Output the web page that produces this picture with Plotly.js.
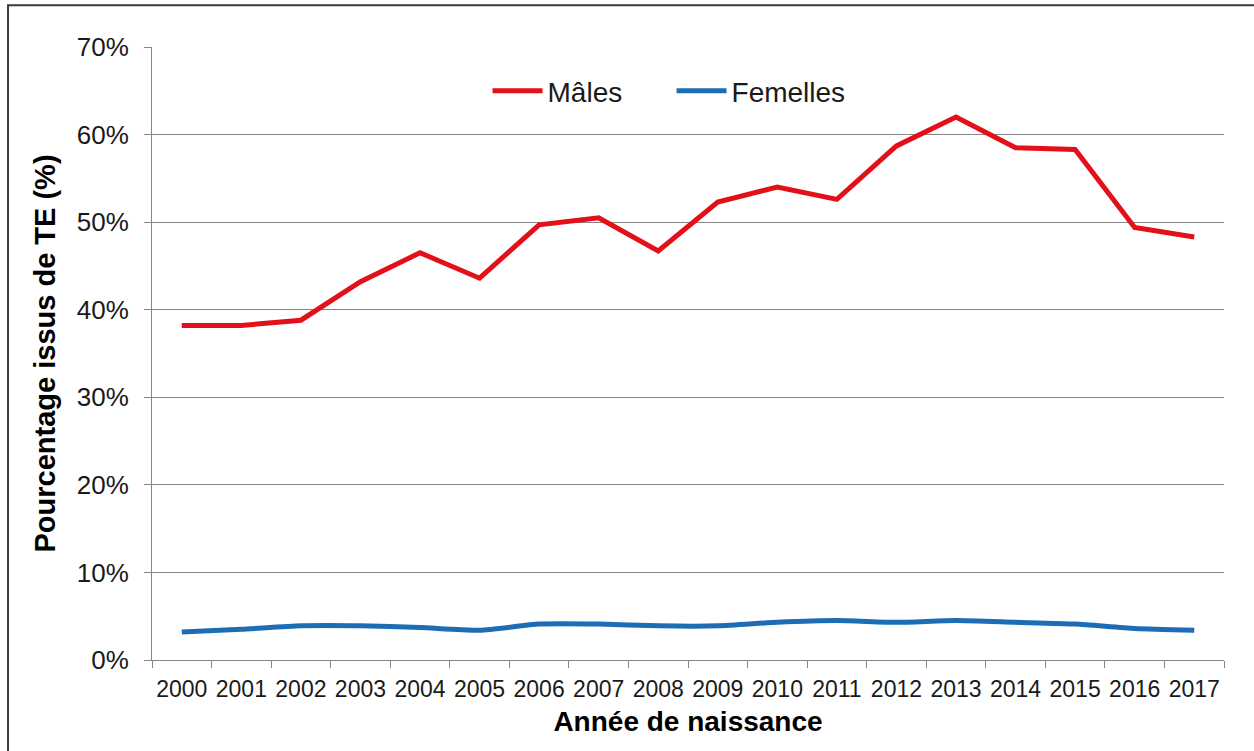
<!DOCTYPE html>
<html>
<head>
<meta charset="utf-8">
<script src="https://cdn.plot.ly/plotly-3.0.1.min.js"></script>
<style>html,body{margin:0;padding:0;background:#fff;}#chart{width:1254px;height:751px;}</style>
</head>
<body>
<div id="chart"></div>
<script>
const years = ["2000","2001","2002","2003","2004","2005","2006","2007","2008","2009","2010","2011","2012","2013","2014","2015","2016","2017"];
const males = [0.382,0.382,0.388,0.432,0.465,0.436,0.497,0.505,0.467,0.523,0.540,0.526,0.587,0.620,0.585,0.583,0.494,0.483];
const femelles = [0.032,0.035,0.039,0.039,0.037,0.034,0.041,0.041,0.039,0.039,0.043,0.045,0.043,0.045,0.043,0.041,0.036,0.034];
const seriesNames = ["Mâles","Femelles"];
const yTicks = [0,0.1,0.2,0.3,0.4,0.5,0.6,0.7];

const FONT = "Liberation Sans, Arial, sans-serif";
const traces = [
  {x: years, y: males, name: seriesNames[0], type: "scatter", mode: "lines",
   line: {color: "#E3101A", width: 5}},
  {x: years, y: femelles, name: seriesNames[1], type: "scatter", mode: "lines",
   line: {color: "#1C6DB4", width: 5, shape: "spline", smoothing: 0.6}}
];
const layout = {
  width: 1254, height: 751,
  margin: {l: 152, r: 30, t: 47, b: 91},
  paper_bgcolor: "#fff", plot_bgcolor: "#fff",
  font: {family: FONT, color: "#1a1a1a"},
  showlegend: true,
  legend: {orientation: "h", x: 0.313, y: 0.928, xanchor: "left", yanchor: "middle",
           font: {size: 28, family: FONT, color: "#1a1a1a"}, bgcolor: "rgba(0,0,0,0)",
           itemwidth: 50, entrywidth: 119, entrywidthmode: "pixels"},
  xaxis: {type: "category", range: [-0.5, 17.5], tickson: "boundaries", tickangle: 0,
          ticks: "outside", ticklen: 7, tickcolor: "#868686", tickwidth: 1,
          showline: true, linecolor: "#868686", linewidth: 1,
          showgrid: false, zeroline: false, ticklabelstandoff: 8,
          tickfont: {size: 23, family: FONT, color: "#1a1a1a"},
          title: {text: "Année de naissance", font: {size: 28, family: FONT, color: "#000", weight: "bold"}, standoff: 10},
          fixedrange: true},
  yaxis: {range: [0, 0.7], tickvals: yTicks, tickformat: ".0%",
          ticks: "outside", ticklen: 7, tickcolor: "#868686", tickwidth: 1,
          showline: true, linecolor: "#868686", linewidth: 1,
          showgrid: true, gridcolor: "#868686", gridwidth: 1, zeroline: false,
          ticklabelstandoff: 10,
          tickfont: {size: 26, family: FONT, color: "#1a1a1a"},
          title: {text: "Pourcentage issus de TE (%)", font: {size: 29, family: FONT, color: "#000", weight: "bold"}, standoff: 12},
          fixedrange: true},
  shapes: [
    {type: "rect", xref: "paper", yref: "paper", x0: -0.1343, x1: 1.2, y0: -0.3, y1: 1.068,
     line: {color: "#3a3a3a", width: 2}, fillcolor: "rgba(0,0,0,0)", layer: "below"}
  ]
};
Plotly.newPlot("chart", traces, layout, {displayModeBar: false, staticPlot: true});
</script>
</body>
</html>
